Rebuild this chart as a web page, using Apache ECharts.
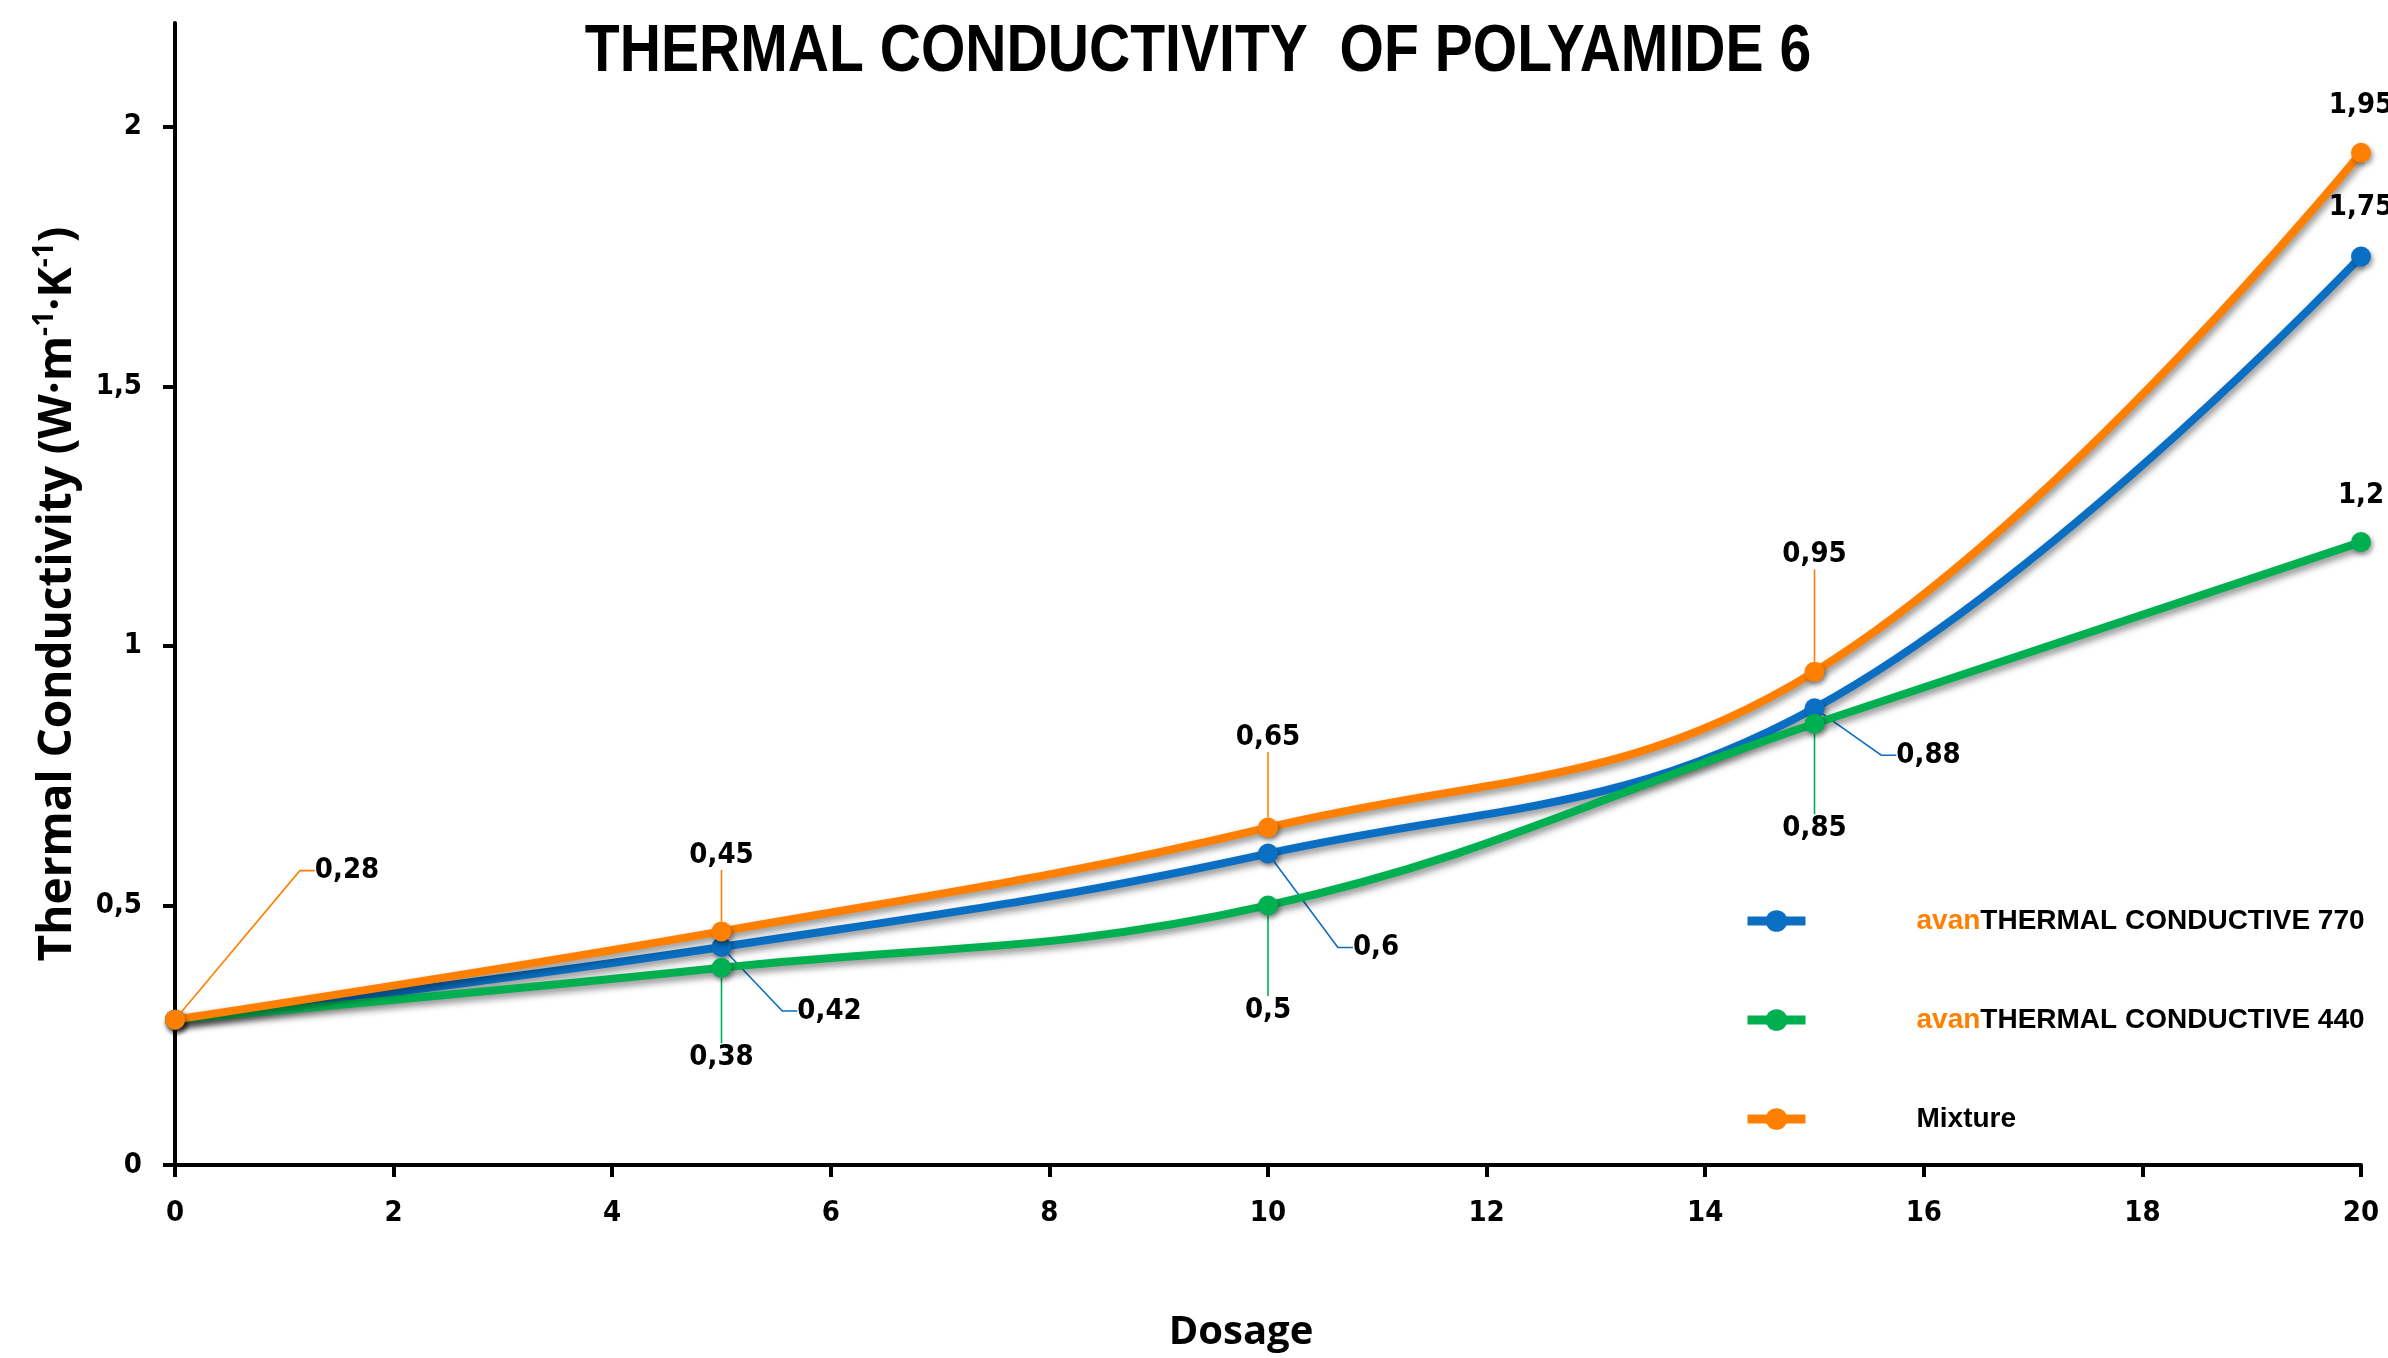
<!DOCTYPE html>
<html>
<head>
<meta charset="utf-8">
<script src="https://cdn.jsdelivr.net/npm/echarts@6/dist/echarts.min.js"></script>
<style>
html,body{margin:0;padding:0;background:#fff;}
#chart{width:2388px;height:1358px;}
</style>
</head>
<body>
<div id="chart"></div>
<script>
// ---- data ----
const dosage = [0, 5, 10, 15, 20];
const tc770 = [0.28, 0.42, 0.6, 0.88, 1.75];
const tc440 = [0.28, 0.38, 0.5, 0.85, 1.2];
const mixture = [0.28, 0.45, 0.65, 0.95, 1.95];
const seriesNames = ['avanTHERMAL CONDUCTIVE 770', 'avanTHERMAL CONDUCTIVE 440', 'Mixture'];
const xTicks = [0, 2, 4, 6, 8, 10, 12, 14, 16, 18, 20];
const yTicks = [0, 0.5, 1, 1.5, 2];
const titleText = 'THERMAL CONDUCTIVITY  OF POLYAMIDE 6';
const xName = 'Dosage';

// ---- styling (label placement offsets, colours) ----
const colors = ['#0A6FC2', '#00B050', '#FF8000'];
const labelOffsets = [
  [null, [108, 64], [108, 94], [114, 47], [0, -49]],
  [null, [0, 90], [0, 105], [0, 105], [0, -47]],
  [[172, -149], [0, -76], [0, -90], [0, -117], [0, -47]]
];
const leaderShown = [[false, true, true, true, false], [false, true, true, true, false], [true, true, true, true, false]];

const numFont = "'Liberation Sans Narrow', 'DejaVu Sans Condensed', 'Liberation Sans', sans-serif";
const arialFont = "'Liberation Sans', Arial, sans-serif";

function fmt(v) { return String(v).replace('.', ','); }

function buildSeries(i, values) {
  return {
    name: seriesNames[i],
    type: 'line',
    smooth: 0.4,
    symbol: 'circle',
    symbolSize: 20,
    z: 2 + i,
    lineStyle: {
      width: 8, color: colors[i],
      shadowColor: 'rgba(0,0,0,0.45)', shadowBlur: 7, shadowOffsetX: 2, shadowOffsetY: 4
    },
    itemStyle: {
      color: colors[i],
      shadowColor: 'rgba(0,0,0,0.4)', shadowBlur: 5, shadowOffsetX: 2, shadowOffsetY: 3
    },
    label: {
      show: true,
      position: 'inside',
      color: '#000',
      fontFamily: numFont,
      fontWeight: 'bold',
      fontSize: 29,
      padding: [10, 6],
      formatter: p => fmt(p.value[1])
    },
    labelLine: {
      show: true,
      length2: 15,
      smooth: false,
      lineStyle: { width: 1.6, color: colors[i] }
    },
    labelLayout: function (p) {
      const o = labelOffsets[i][p.dataIndex];
      if (!o) return {};
      return { dx: o[0], dy: o[1] };
    },
    data: dosage.map((x, k) => {
      const item = { value: [x, values[k]] };
      if (!labelOffsets[i][k]) item.label = { show: false };
      if (!leaderShown[i][k]) item.labelLine = { show: false };
      return item;
    })
  };
}

const chart = echarts.init(document.getElementById('chart'));
chart.setOption({
  backgroundColor: '#fff',
  animation: false,
  graphic: [{
    type: 'text',
    x: 1198,
    y: 53,
    scaleX: 0.852,
    z: 10,
    style: {
      text: titleText,
      align: 'center',
      verticalAlign: 'middle',
      fontFamily: arialFont,
      fontWeight: 'bold',
      fontSize: 67,
      fill: '#000'
    }
  }],
  legend: {
    orient: 'vertical',
    left: 1738,
    top: 902,
    itemWidth: 58,
    itemHeight: 27,
    itemGap: 71,
    data: seriesNames,
    lineStyle: { width: 9 },
    formatter: function (name) {
      if (name.indexOf('avan') === 0) return '{g|}{a|avan}{b|' + name.slice(4) + '}';
      return '{g|}{b|' + name + '}';
    },
    textStyle: {
      fontFamily: arialFont,
      fontWeight: 'bold',
      fontSize: 28,
      color: '#000',
      rich: {
        g: { width: 106 },
        a: { color: '#FF8000', fontFamily: arialFont, fontWeight: 'bold', fontSize: 28 },
        b: { color: '#000', fontFamily: arialFont, fontWeight: 'bold', fontSize: 28 }
      }
    }
  },
  grid: { left: 175, right: 27, top: 23, bottom: 193, containLabel: false },
  xAxis: {
    type: 'value',
    min: 0, max: 20, interval: 2,
    name: xName,
    nameLocation: 'middle',
    nameGap: 148,
    nameTextStyle: { fontFamily: "'Open Sans', sans-serif", fontWeight: 'bold', fontSize: 40, color: '#000', padding: [0, 54, 0, 0] },
    axisLine: { show: true, onZero: false, lineStyle: { color: '#000', width: 4 } },
    axisTick: { show: true, inside: false, length: 12, lineStyle: { color: '#000', width: 4 }, customValues: xTicks },
    axisLabel: { margin: 34, fontFamily: numFont, fontWeight: 'bold', fontSize: 29, color: '#000', customValues: xTicks },
    splitLine: { show: false }
  },
  yAxis: {
    type: 'value',
    min: 0, max: 2.2, interval: 0.5,
    name: 'Thermal Conductivity (W·m{s|-1}·K{s|-1})',
    nameLocation: 'middle',
    nameRotate: 90,
    nameGap: 88,
    nameTextStyle: {
      fontFamily: "'Open Sans', sans-serif", fontWeight: 'bold', fontSize: 46, color: '#000', lineHeight: 54,
      rich: { s: { fontFamily: "'Open Sans', sans-serif", fontWeight: 'bold', fontSize: 28, color: '#000', verticalAlign: 'top', lineHeight: 54 } }
    },
    axisLine: { show: true, lineStyle: { color: '#000', width: 4 } },
    axisTick: { show: true, inside: false, length: 12, lineStyle: { color: '#000', width: 4 }, customValues: yTicks },
    axisLabel: { margin: 33, fontFamily: numFont, fontWeight: 'bold', fontSize: 29, color: '#000', customValues: yTicks, formatter: v => fmt(v) },
    splitLine: { show: false }
  },
  series: [buildSeries(0, tc770), buildSeries(1, tc440), buildSeries(2, mixture)]
});
</script>
</body>
</html>
